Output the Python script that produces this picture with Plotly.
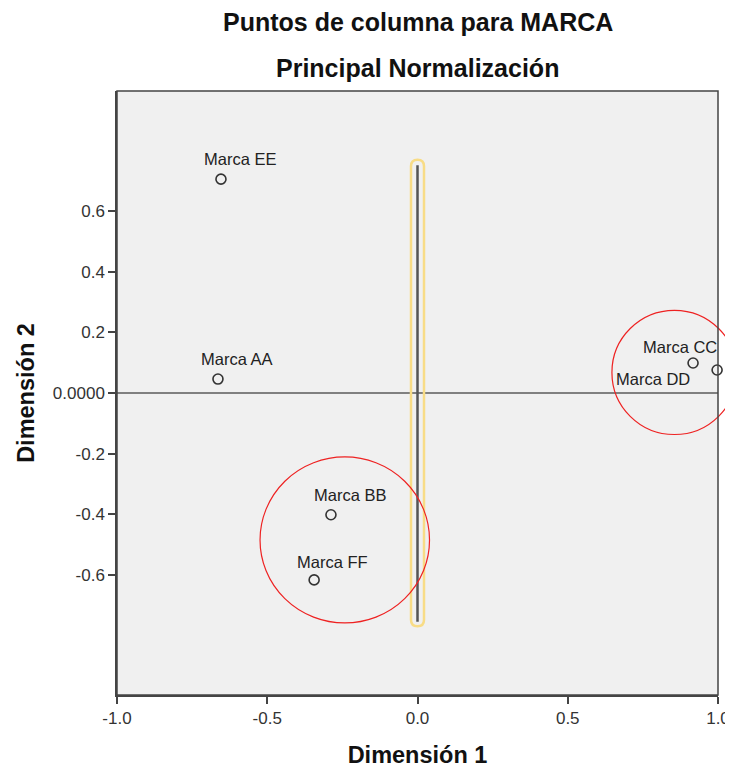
import plotly.graph_objects as go

# coordenadas de los puntos de columna (Dimensión 1, Dimensión 2)
marcas = ['Marca AA', 'Marca BB', 'Marca CC', 'Marca DD', 'Marca EE', 'Marca FF']
dim1 = [-0.664, -0.288, 0.917, 0.997, -0.654, -0.344]
dim2 = [0.046, -0.402, 0.099, 0.076, 0.706, -0.617]

x_ticks = [-1.0, -0.5, 0.0, 0.5, 1.0]
x_ticktext = ['-1.0', '-0.5', '0.0', '0.5', '1.0']
y_ticks = [-0.6, -0.4, -0.2, 0.0, 0.2, 0.4, 0.6]
y_ticktext = ['-0.6', '-0.4', '-0.2', '0.0000', '0.2', '0.4', '0.6']

# desplazamiento de cada etiqueta respecto al punto (px)
label_shift = {
    'Marca AA': (19, 20),
    'Marca BB': (19, 20),
    'Marca CC': (-13, 16),
    'Marca DD': (-64, -9),
    'Marca EE': (19, 20),
    'Marca FF': (18, 18),
}

# círculos rojos de resaltado: (centro x, centro y, radio x, radio y) en unidades de datos
circles = [(0.855, 0.068, 0.208, 0.205), (-0.242, -0.485, 0.282, 0.274)]

X_RANGE = [-1.0, 1.0]
Y_RANGE = [-0.997, 0.997]
# la página tiene 8px de margen en el body, así que la figura es algo menor
W, H = 725, 760
ML, MR, MT, MB = 109, 15, 83, 73
PW, PH = W - ML - MR, H - MT - MB

FONT = 'Liberation Sans, Arial'

def to_paper_x(v):
    return (v - X_RANGE[0]) / (X_RANGE[1] - X_RANGE[0])

def to_paper_y(v):
    return (v - Y_RANGE[0]) / (Y_RANGE[1] - Y_RANGE[0])

fig = go.Figure()

# línea horizontal en y=0
fig.add_trace(go.Scatter(x=X_RANGE, y=[0, 0], mode='lines',
                         line=dict(color='#111111', width=1.2),
                         hoverinfo='skip', showlegend=False))

# línea vertical en x=0
fig.add_trace(go.Scatter(x=[0, 0], y=[-0.755, 0.752], mode='lines',
                         line=dict(color='#555555', width=2.5),
                         hoverinfo='skip', showlegend=False))

# resaltado amarillo redondeado alrededor de la línea vertical
xc = to_paper_x(0)
hw = 6.5 / PW
rr = 6.5 / PH
yb, yt = to_paper_y(-0.77), to_paper_y(0.77)
x0, x1 = xc - hw, xc + hw
path = (f'M {x0},{yb + rr} L {x0},{yt - rr} Q {x0},{yt} {xc},{yt} '
        f'Q {x1},{yt} {x1},{yt - rr} L {x1},{yb + rr} '
        f'Q {x1},{yb} {xc},{yb} Q {x0},{yb} {x0},{yb + rr} Z')
fig.add_shape(type='path', xref='paper', yref='paper', path=path,
              line=dict(color='#f8dc86', width=2.5))

# puntos
fig.add_trace(go.Scatter(x=dim1, y=dim2, mode='markers',
                         marker=dict(symbol='circle-open', size=10,
                                     color='#333333', line=dict(width=1.6)),
                         cliponaxis=False, showlegend=False))

for m, xv, yv in zip(marcas, dim1, dim2):
    dx, dy = label_shift[m]
    fig.add_annotation(x=xv, y=yv, text=m, showarrow=False,
                       xshift=dx, yshift=dy,
                       font=dict(family=FONT, size=16.5, color='#222222'))

# círculos (en coordenadas de papel para que no se recorten)
for cx, cy, rx, ry in circles:
    fig.add_shape(type='circle', xref='paper', yref='paper',
                  x0=to_paper_x(cx - rx), x1=to_paper_x(cx + rx),
                  y0=to_paper_y(cy - ry), y1=to_paper_y(cy + ry),
                  line=dict(color='#ee2222', width=1.2))

# borde del área de trazado
fig.add_shape(type='rect', xref='paper', yref='paper', x0=0, x1=1, y0=0, y1=1,
              line=dict(color='#444444', width=1.5), layer='above')

# títulos
fig.add_annotation(x=0.5, y=1, xref='paper', yref='paper', yanchor='middle',
                   yshift=69, showarrow=False,
                   text='<b>Puntos de columna para MARCA</b>',
                   font=dict(family=FONT, size=25, color='#111111'))
fig.add_annotation(x=0.5, y=1, xref='paper', yref='paper', yanchor='middle',
                   yshift=23, showarrow=False,
                   text='<b>Principal Normalización</b>',
                   font=dict(family=FONT, size=25, color='#111111'))

fig.update_layout(
    width=W, height=H,
    margin=dict(l=ML, r=MR, t=MT, b=MB),
    paper_bgcolor='white',
    plot_bgcolor='#f0f0f0',
    font=dict(family=FONT, size=17, color='#333333'),
    xaxis=dict(range=X_RANGE, tickvals=x_ticks, ticktext=x_ticktext,
               showgrid=False, zeroline=False, ticks='outside', ticklen=7,
               tickcolor='#444444', tickwidth=1.5, automargin=False,
               showline=True, linecolor='#444444', linewidth=1.5,
               title=dict(text='<b>Dimensión 1</b>', standoff=20,
                          font=dict(size=23.5, color='#111111'))),
    yaxis=dict(range=Y_RANGE, tickvals=y_ticks, ticktext=y_ticktext,
               showgrid=False, zeroline=False, ticks='outside', ticklen=7,
               tickcolor='#444444', tickwidth=1.5, automargin=False,
               showline=True, linecolor='#444444', linewidth=1.5,
               title=dict(text='<b>Dimensión 2</b>', standoff=12,
                          font=dict(size=23.5, color='#111111'))),
)

fig.write_html('out.html')
